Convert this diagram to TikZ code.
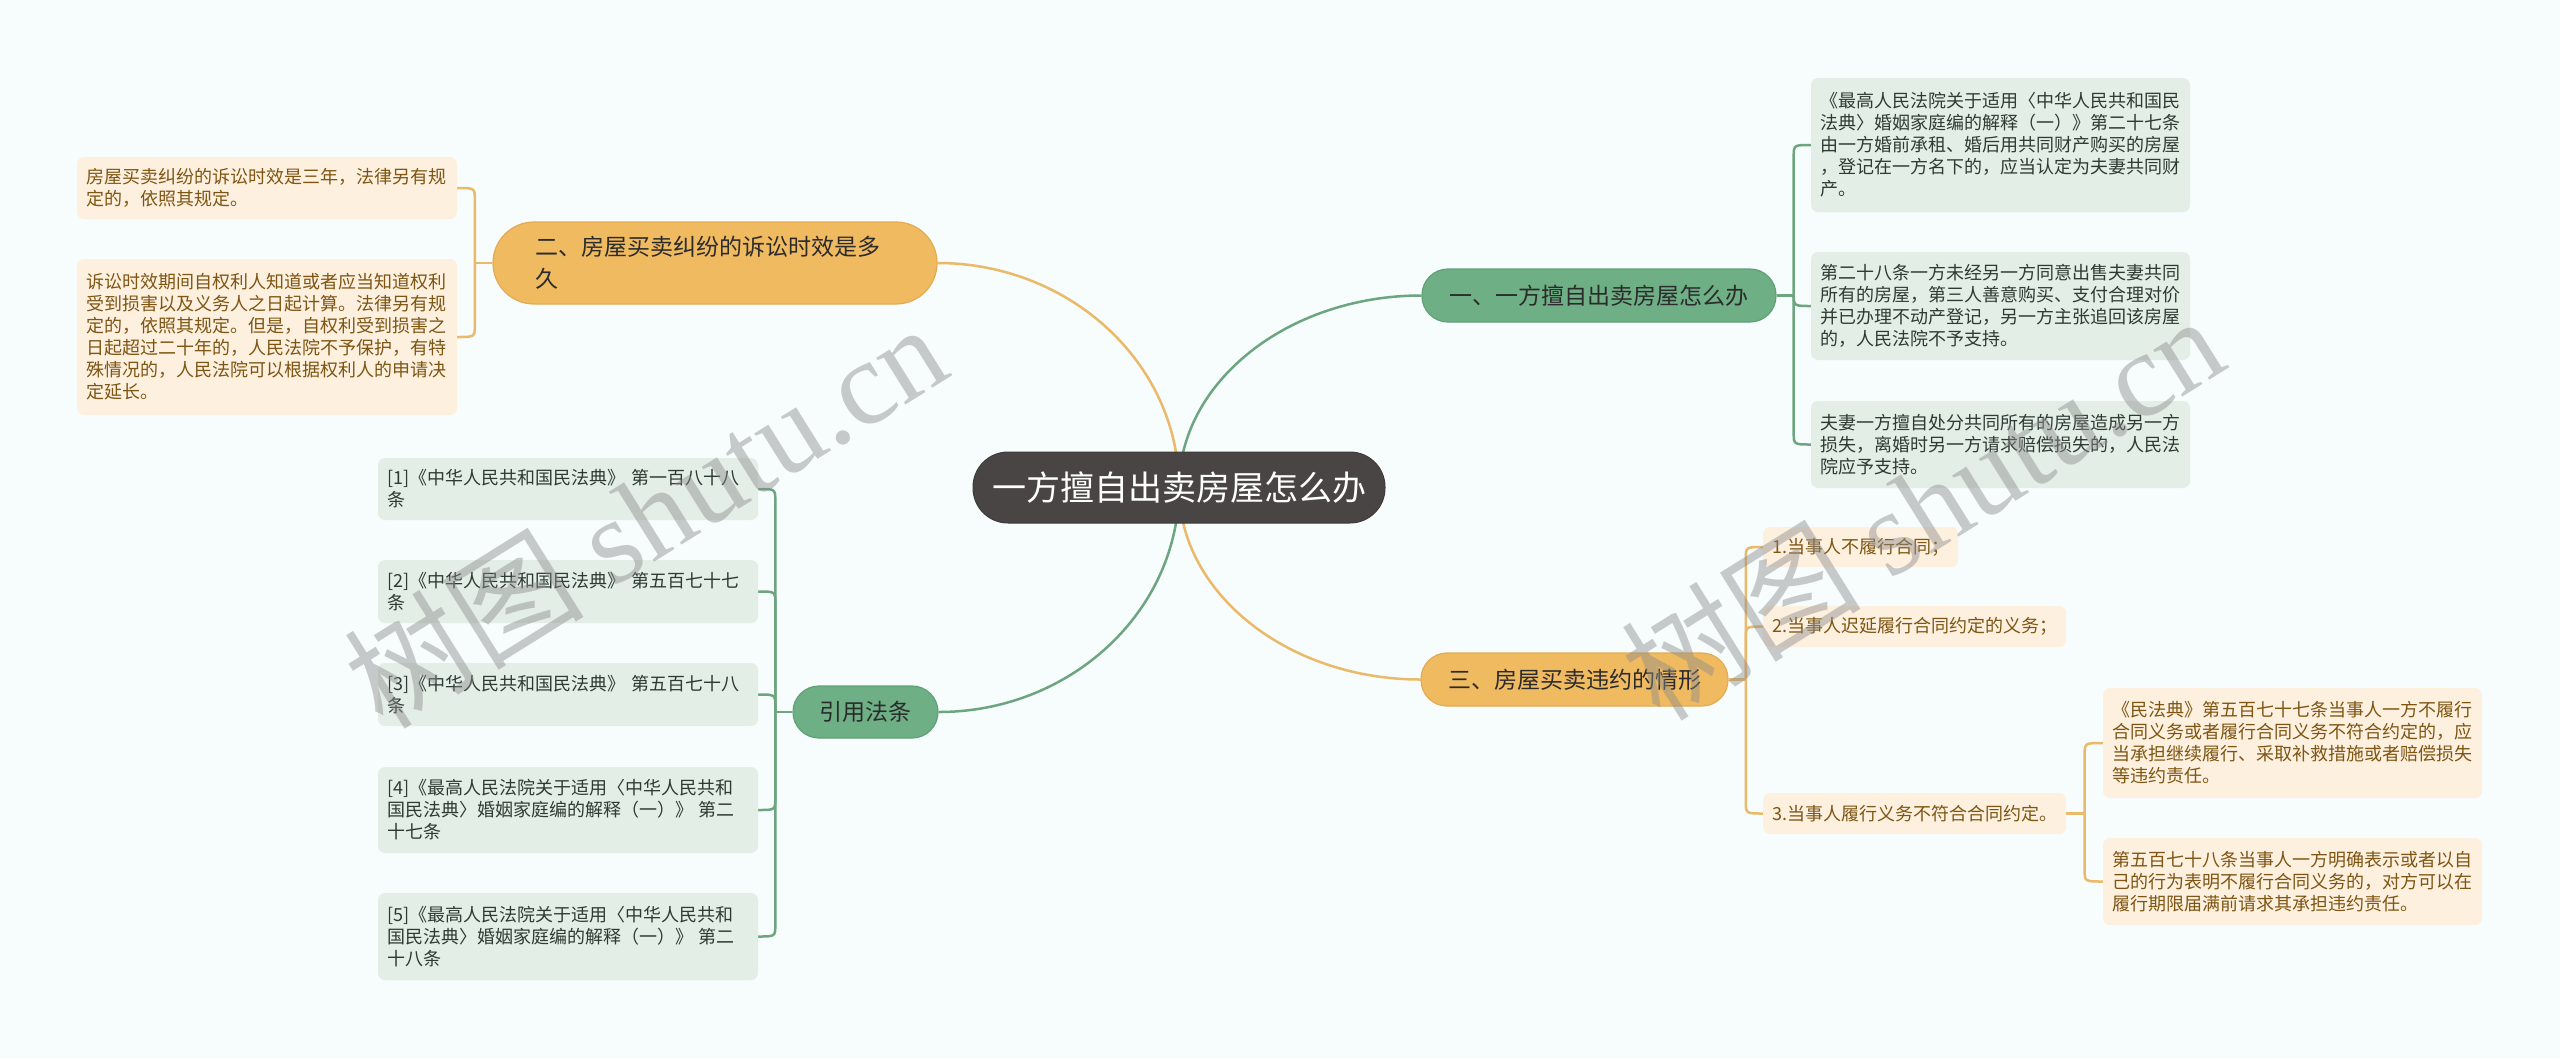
\documentclass[tikz,border=0pt]{standalone}
\usepackage{fontspec}
\setmainfont{Noto Sans CJK SC}
\newfontfamily\wmserif{Liberation Serif}
\newfontfamily\wmcjk{Noto Sans CJK SC}
\usetikzlibrary{calc}
\definecolor{bgc}{HTML}{F7FCFC}
\definecolor{rootc}{HTML}{4A4545}
\definecolor{gbrc}{HTML}{6FAF86}
\definecolor{gbrd}{HTML}{5FA077}
\definecolor{obrc}{HTML}{F0BA60}
\definecolor{obrd}{HTML}{E3AB52}
\definecolor{gleafc}{HTML}{E3EEE6}
\definecolor{oleafc}{HTML}{FDF0DF}
\definecolor{glinec}{HTML}{6DA581}
\definecolor{olinec}{HTML}{EAB96A}
\definecolor{gtext}{HTML}{2D3B32}
\definecolor{otext}{HTML}{7E5512}
\definecolor{brtext}{HTML}{2B2B2B}
\definecolor{wmc}{HTML}{8C8C8C}
\pgfdeclarelayer{bgl}
\pgfdeclarelayer{edges}
\pgfsetlayers{bgl,edges,main}
\newcommand\mmlink[3]{\draw[#3] (#1) -- ($(#1 |- #2)!12pt!(#1)$) .. controls (#1 |- #2) .. (#2);}
\begin{document}
\begin{tikzpicture}[x=1pt,y=-1pt,
  rootn/.style={fill=rootc, draw=rootc!85!black, line width=1, rounded corners=35, text=white,
    font=\fontsize{34}{40}\selectfont, minimum width=412, minimum height=71, inner sep=0},
  gbr/.style={fill=gbrc, draw=gbrd, line width=1.2, rounded corners=26, text=brtext,
    font=\fontsize{23}{32}\selectfont, inner sep=0},
  obr/.style={fill=obrc, draw=obrd, line width=1.2, rounded corners=26, text=brtext,
    font=\fontsize{23}{32}\selectfont, inner sep=0},
  gleaf/.style={fill=gleafc, rounded corners=7, text=gtext, align=left,
    font=\fontsize{18}{22}\selectfont, inner xsep=9, inner ysep=0},
  oleaf/.style={fill=oleafc, rounded corners=7, text=otext, align=left,
    font=\fontsize{18}{22}\selectfont, inner xsep=9, inner ysep=0},
  gline/.style={draw=glinec, line width=2.5},
  oline/.style={draw=olinec, line width=2.5},
  wm/.style={text=wmc, opacity=0.45, inner sep=0}
]
\begin{pgfonlayer}{bgl}
\fill[bgc] (0,0) rectangle (2560,1058);
\end{pgfonlayer}
\useasboundingbox (0,0) rectangle (2560,1058);

% root and branches
\node[rootn] (root) at (1179,487.5) {一方擅自出卖房屋怎么办};
\node[gbr, minimum width=354, minimum height=53] (B1) at (1599,295.5) {一、一方擅自出卖房屋怎么办};
\node[obr, rounded corners=41, minimum height=82, text width=360, align=left, inner xsep=42] (B2) at (715,263) {二、房屋买卖纠纷的诉讼时效是多\\久};
\node[obr, minimum width=307, minimum height=53] (B3) at (1574.5,679.5) {三、房屋买卖违约的情形};
\node[gbr, minimum width=145, minimum height=52] (C) at (865.5,712) {引用法条};

% left leaves of branch 2
\node[oleaf, text width=362, minimum height=62] (LA) at (267,188) {房屋买卖纠纷的诉讼时效是三年，法律另有规\\定的，依照其规定。};
\node[oleaf, text width=362, minimum height=156] (LB) at (267,337) {诉讼时效期间自权利人知道或者应当知道权利\\受到损害以及义务人之日起计算。法律另有规\\定的，依照其规定。但是，自权利受到损害之\\日起超过二十年的，人民法院不予保护，有特\\殊情况的，人民法院可以根据权利人的申请决\\定延长。};

% citations
\node[gleaf, text width=362, minimum height=62] (C1) at (568,489) {[1]《中华人民共和国民法典》 第一百八十八\\条};
\node[gleaf, text width=362, minimum height=63] (C2) at (568,591.5) {[2]《中华人民共和国民法典》 第五百七十七\\条};
\node[gleaf, text width=362, minimum height=63] (C3) at (568,694.5) {[3]《中华人民共和国民法典》 第五百七十八\\条};
\node[gleaf, text width=362, minimum height=86] (C4) at (568,810) {[4]《最高人民法院关于适用〈中华人民共和\\国民法典〉婚姻家庭编的解释（一）》 第二\\十七条};
\node[gleaf, text width=362, minimum height=87] (C5) at (568,936.5) {[5]《最高人民法院关于适用〈中华人民共和\\国民法典〉婚姻家庭编的解释（一）》 第二\\十八条};

% right leaves of branch 1
\node[gleaf, text width=361, minimum height=134] (R1) at (2000.5,145) {《最高人民法院关于适用〈中华人民共和国民\\法典〉婚姻家庭编的解释（一）》第二十七条\\由一方婚前承租、婚后用共同财产购买的房屋\\，登记在一方名下的，应当认定为夫妻共同财\\产。};
\node[gleaf, text width=361, minimum height=108] (R2) at (2000.5,306) {第二十八条一方未经另一方同意出售夫妻共同\\所有的房屋，第三人善意购买、支付合理对价\\并已办理不动产登记，另一方主张追回该房屋\\的，人民法院不予支持。};
\node[gleaf, text width=361, minimum height=87] (R3) at (2000.5,444.5) {夫妻一方擅自处分共同所有的房屋造成另一方\\损失，离婚时另一方请求赔偿损失的，人民法\\院应予支持。};

% leaves of branch 3
\node[oleaf, anchor=west, minimum height=40] (O1) at (1763,547) {1.当事人不履行合同；};
\node[oleaf, anchor=west, minimum height=41] (O2) at (1763,626.5) {2.当事人迟延履行合同约定的义务；};
\node[oleaf, anchor=west, minimum height=41] (O3) at (1763,813.5) {3.当事人履行义务不符合合同约定。};
\node[oleaf, text width=361, minimum height=110] (O4) at (2292.5,743) {《民法典》第五百七十七条当事人一方不履行\\合同义务或者履行合同义务不符合约定的，应\\当承担继续履行、采取补救措施或者赔偿损失\\等违约责任。};
\node[oleaf, text width=361, minimum height=87] (O5) at (2292.5,881.5) {第五百七十八条当事人一方明确表示或者以自\\己的行为表明不履行合同义务的，对方可以在\\履行期限届满前请求其承担违约责任。};

% connectors
\begin{pgfonlayer}{edges}
\coordinate (k1) at (root.center |- B1.west);
\coordinate (k2) at (root.center |- B2.east);
\coordinate (k3) at (root.center |- B3.west);
\coordinate (k4) at (root.center |- C.east);
\draw[gline] (root.center) .. controls ($(root.center)!0.55!(k1)$) and ($(B1.west)!0.55!(k1)$) .. (B1.west);
\draw[oline] (root.center) .. controls ($(root.center)!0.55!(k2)$) and ($(B2.east)!0.55!(k2)$) .. (B2.east);
\draw[oline] (root.center) .. controls ($(root.center)!0.55!(k3)$) and ($(B3.west)!0.55!(k3)$) .. (B3.west);
\draw[gline] (root.center) .. controls ($(root.center)!0.55!(k4)$) and ($(C.east)!0.55!(k4)$) .. (C.east);

\coordinate (j1) at ($(B1.east)!0.5!(B1.east -| R1.west)$);
\draw[gline] (B1.east) -- (j1);
\mmlink{j1}{R1.west}{gline}
\mmlink{j1}{R2.west}{gline}
\mmlink{j1}{R3.west}{gline}

\coordinate (j2) at ($(B2.west)!0.5!(B2.west -| LA.east)$);
\draw[oline] (B2.west) -- (j2);
\mmlink{j2}{LA.east}{oline}
\mmlink{j2}{LB.east}{oline}

\coordinate (j3) at ($(B3.east)!0.5!(B3.east -| O1.west)$);
\draw[oline] (B3.east) -- (j3);
\mmlink{j3}{O1.west}{oline}
\mmlink{j3}{O2.west}{oline}
\mmlink{j3}{O3.west}{oline}

\coordinate (j4) at ($(O3.east)!0.5!(O3.east -| O4.west)$);
\draw[oline] (O3.east) -- (j4);
\mmlink{j4}{O4.west}{oline}
\mmlink{j4}{O5.west}{oline}

\coordinate (j5) at ($(C.west)!0.5!(C.west -| C1.east)$);
\draw[gline] (C.west) -- (j5);
\mmlink{j5}{C1.east}{gline}
\mmlink{j5}{C2.east}{gline}
\mmlink{j5}{C3.east}{gline}
\mmlink{j5}{C4.east}{gline}
\mmlink{j5}{C5.east}{gline}
\end{pgfonlayer}

% watermarks
\node[wm, rotate=32, font=\wmserif\fontsize{120}{120}\selectfont] (wm1) at (645,514) {{\wmcjk 树图} shutu.cn};
\node[wm, rotate=32, font=\wmserif\fontsize{120}{120}\selectfont] (wm2) at (1922,506) {{\wmcjk 树图} shutu.cn};
\end{tikzpicture}
\end{document}
